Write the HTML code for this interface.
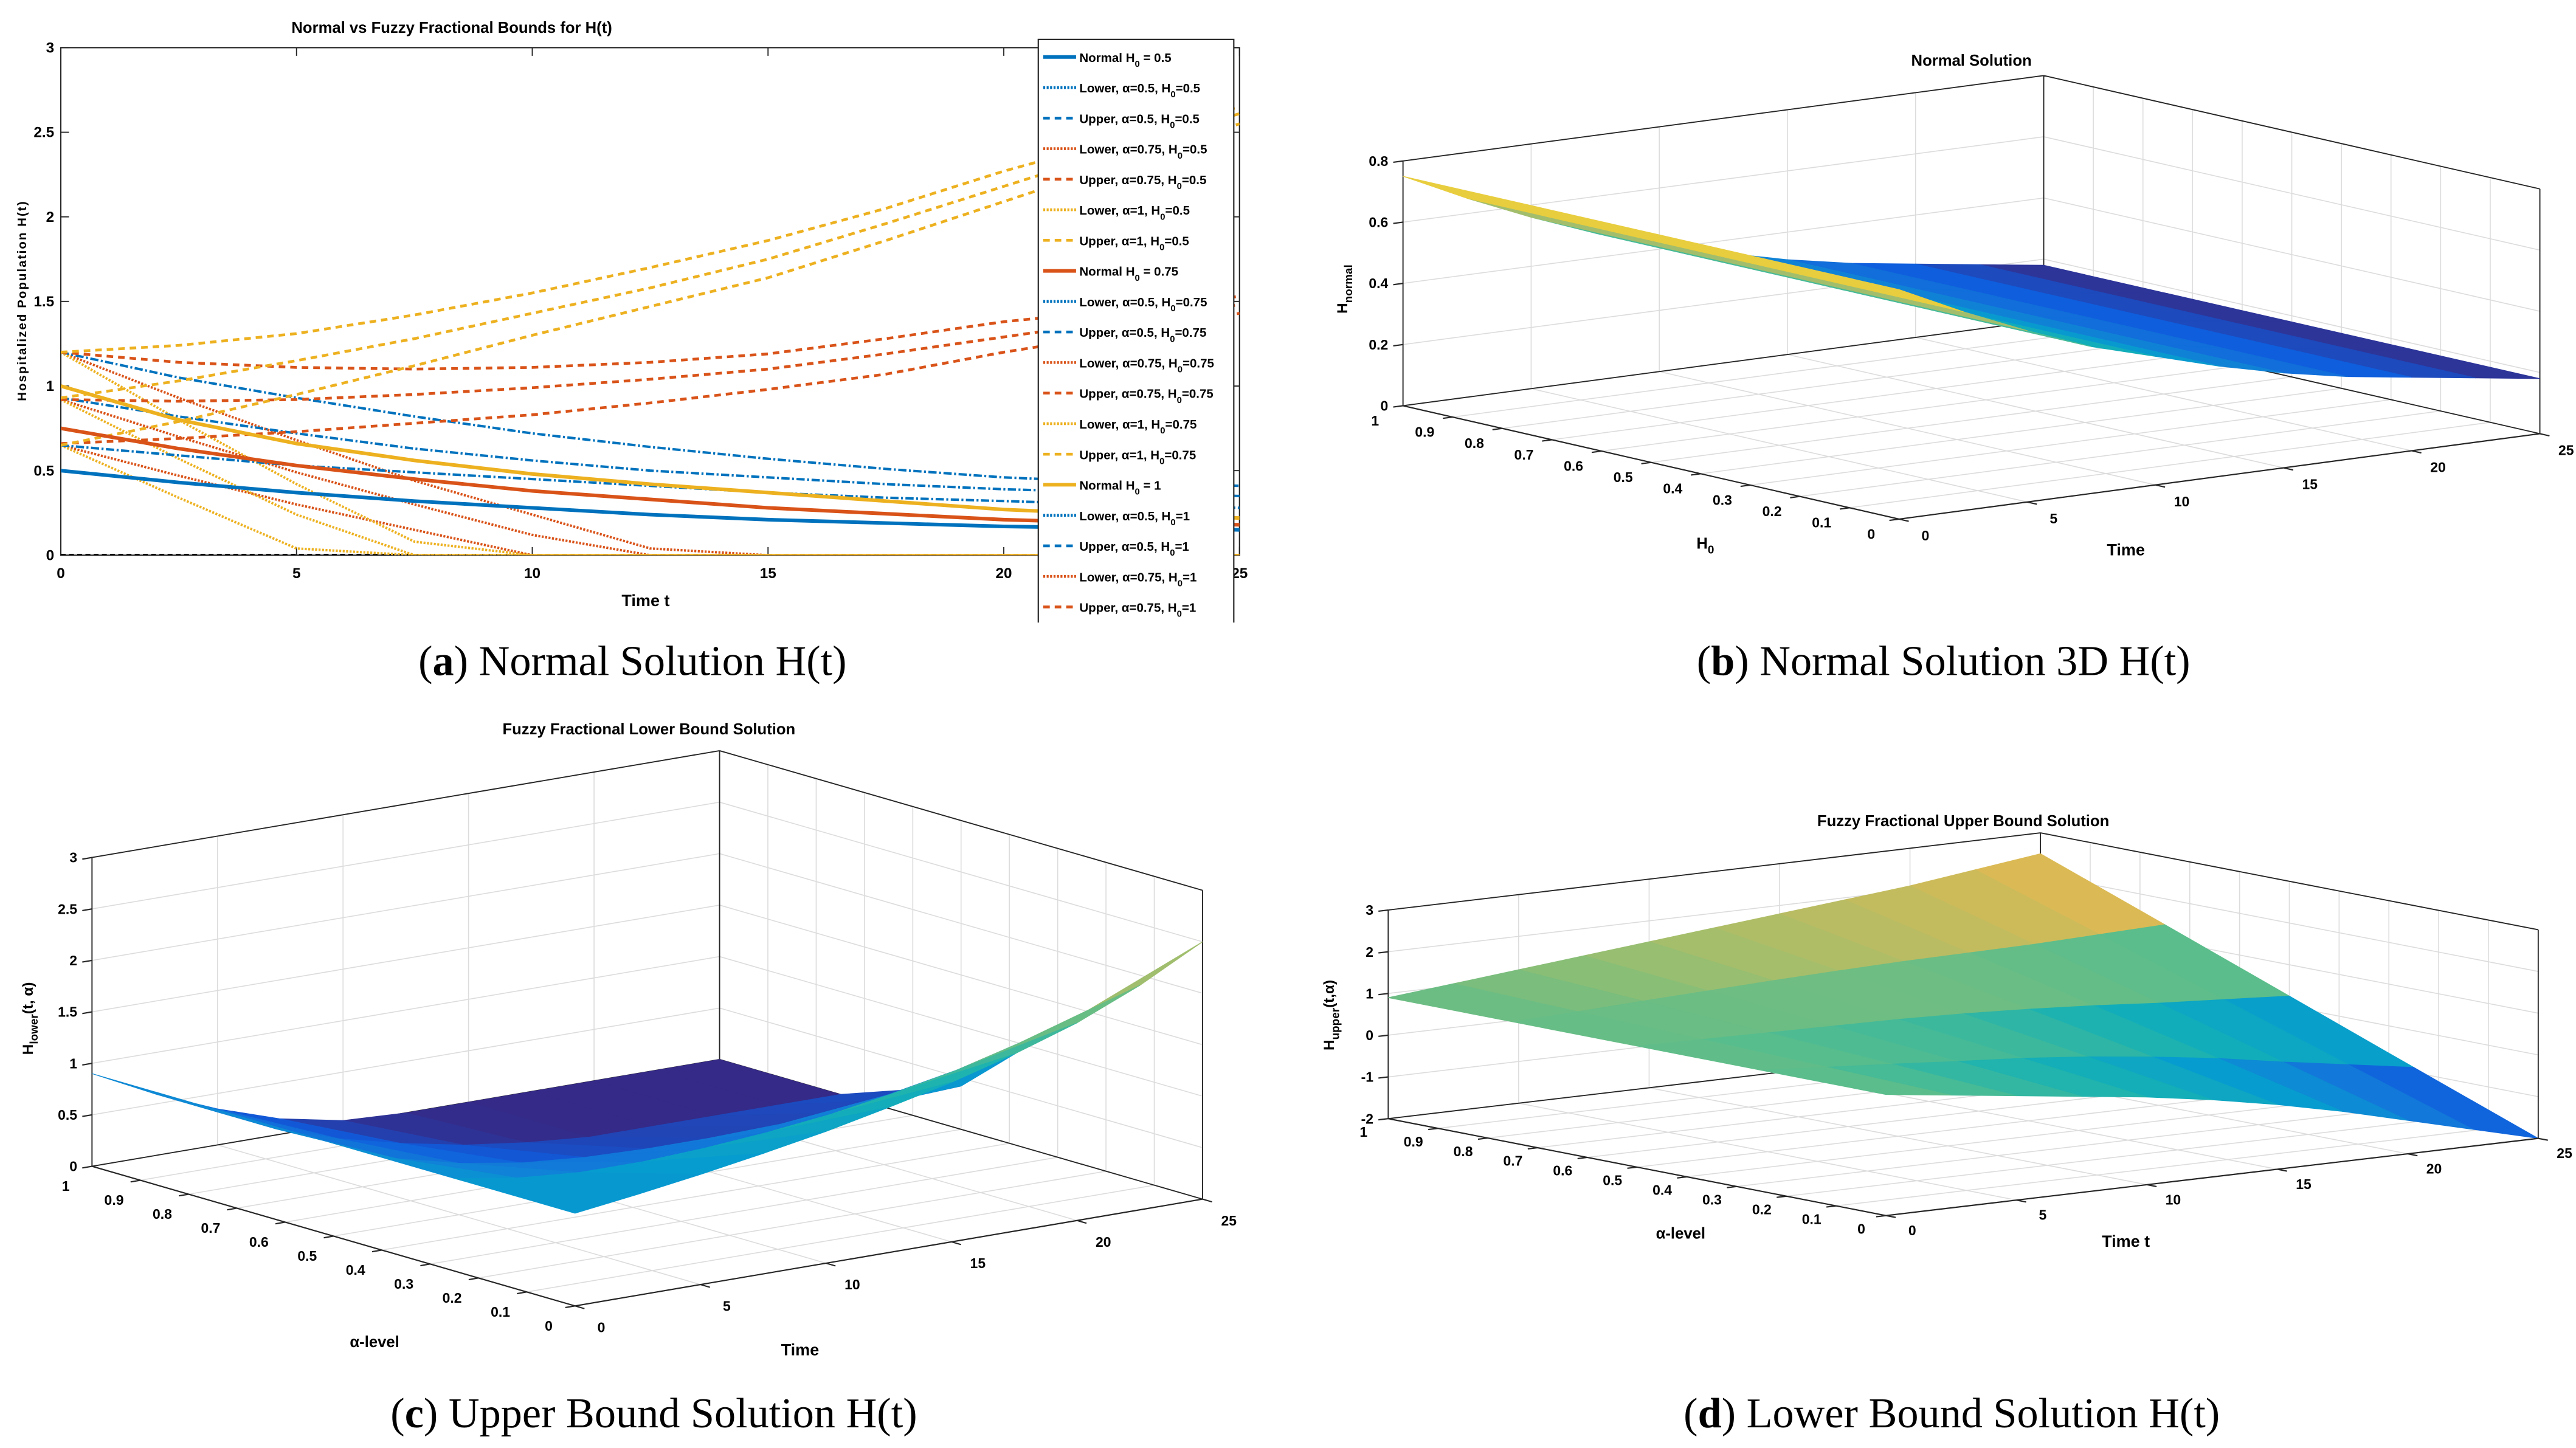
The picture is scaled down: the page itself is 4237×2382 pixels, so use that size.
<!DOCTYPE html>
<html><head><meta charset="utf-8"><style>
html,body{margin:0;padding:0;background:#fff;}
svg{display:block;}
text{font-family:"Liberation Sans",sans-serif;}
.cap{font-family:"Liberation Serif",serif;font-size:26px;fill:#000;}
</style></head><body>
<svg id="fig" xmlns="http://www.w3.org/2000/svg" width="4237" height="2382" viewBox="0 0 1568 881.5" preserveAspectRatio="none">
<rect x="0" y="0" width="1568" height="881.5" fill="#fff"/>
<defs>
<clipPath id="clipA"><rect x="37" y="29" width="717.5" height="309"/></clipPath>
<clipPath id="clipLeg"><rect x="600" y="0" width="200" height="379"/></clipPath>
</defs>
<text class="cap" x="385" y="411" text-anchor="middle">(<tspan font-weight="bold">a</tspan>) Normal Solution H(t)</text>
<text class="cap" x="1183" y="411" text-anchor="middle">(<tspan font-weight="bold">b</tspan>) Normal Solution 3D H(t)</text>
<text class="cap" x="398" y="869" text-anchor="middle">(<tspan font-weight="bold">c</tspan>) Upper Bound Solution H(t)</text>
<text class="cap" x="1188" y="869" text-anchor="middle">(<tspan font-weight="bold">d</tspan>) Lower Bound Solution H(t)</text>
</svg>
<script>
// ---------- Panel (a) data ----------
const tA = [0,2.5,5,7.5,10,12.5,15,17.5,20,22.5,25];
const normal05 = [0.5,0.43,0.37,0.32,0.28,0.24,0.21,0.19,0.17,0.16,0.15];
const normal075 = [0.75,0.63,0.53,0.45,0.38,0.33,0.28,0.245,0.21,0.19,0.18];
const normal1 = [1.0,0.8,0.66,0.56,0.48,0.42,0.37,0.32,0.27,0.24,0.22];
const blueDashDotTop = [1.2,1.05,0.93,0.82,0.72,0.64,0.57,0.51,0.46,0.43,0.41];
const blueDashDotMid = [0.93,0.82,0.72,0.63,0.56,0.5,0.46,0.42,0.39,0.37,0.35];
const blueDashDotBot = [0.65,0.59,0.53,0.49,0.45,0.41,0.37,0.34,0.32,0.3,0.28];
const yellowDashTop = [1.2,1.24,1.31,1.42,1.55,1.7,1.86,2.05,2.27,2.46,2.65];
const yellowDashMid = [0.93,1.03,1.15,1.28,1.43,1.58,1.75,1.96,2.18,2.4,2.61];
const yellowDashBot = [0.65,0.79,0.95,1.12,1.3,1.47,1.64,1.86,2.09,2.32,2.55];
const redDashTop = [1.2,1.14,1.11,1.1,1.11,1.14,1.19,1.28,1.38,1.45,1.53];
const redDashMid = [0.92,0.91,0.92,0.95,0.99,1.04,1.1,1.19,1.29,1.39,1.48];
const redDashBot = [0.66,0.69,0.73,0.78,0.83,0.9,0.98,1.07,1.2,1.31,1.43];
const redDotTop = [1.2,0.93,0.68,0.44,0.24,0.04,0,0,0,0,0];
const redDotMid = [0.92,0.7,0.49,0.3,0.12,0,0,0,0,0,0];
const redDotBot = [0.65,0.47,0.3,0.15,0,0,0,0,0,0,0];
const yellowDotTop = [1.2,0.8,0.42,0.08,0,0,0,0,0,0,0];
const yellowDotMid = [0.92,0.57,0.24,0,0,0,0,0,0,0,0];
const yellowDotBot = [0.65,0.34,0.04,0,0,0,0,0,0,0,0];
const zeroLine = [0,0,0,0,0,0,0,0,0,0,0];
const xTicksA = [0,5,10,15,20,25];
const yTicksA = [0,0.5,1,1.5,2,2.5,3];
const yTickLabelsA = ['0','0.5','1','1.5','2','2.5','3'];
const legendLabels = [
 ['Normal H','0',' = 0.5'],['Lower, α=0.5, H','0','=0.5'],['Upper, α=0.5, H','0','=0.5'],
 ['Lower, α=0.75, H','0','=0.5'],['Upper, α=0.75, H','0','=0.5'],['Lower, α=1, H','0','=0.5'],
 ['Upper, α=1, H','0','=0.5'],['Normal H','0',' = 0.75'],['Lower, α=0.5, H','0','=0.75'],
 ['Upper, α=0.5, H','0','=0.75'],['Lower, α=0.75, H','0','=0.75'],['Upper, α=0.75, H','0','=0.75'],
 ['Lower, α=1, H','0','=0.75'],['Upper, α=1, H','0','=0.75'],['Normal H','0',' = 1'],
 ['Lower, α=0.5, H','0','=1'],['Upper, α=0.5, H','0','=1'],['Lower, α=0.75, H','0','=1'],
 ['Upper, α=0.75, H','0','=1'],['Lower, α=1, H','0','=1']];

// ---------- Panel (b) data ----------
const bTimes = [0,2.5,5,7.5,10,12.5,15,17.5,20,22.5,25];
const bH0 = [0,0.25,0.5,0.75,1];
const bNormal = [0.75,0.65,0.56,0.48,0.42,0.36,0.31,0.27,0.24,0.21,0.18];

// ---------- Panel (c) data ----------
const cTimes = [0,2.5,5,7.5,10,12.5,15,17.5,20,22.5,25];
const cAlphas = [0,0.25,0.5,0.75,1];
const cLowA0 = [0.9,0.98,1.07,1.17,1.28,1.41,1.55,1.72,1.92,2.18,2.5];
const cLowA25 = [0.9,0.8,0.75,0.75,0.78,0.83,0.9,1.0,1.12,1.28,1.46];
const cLowA50 = [0.9,0.65,0.5,0.4,0.35,0.33,0.33,0.34,0.36,0.39,0.42];
const cLowA75 = [0.9,0.6,0.4,0.25,0.13,0.05,0,0,0,0,0];
const cLowA100 = [0.9,0.6,0.35,0.15,0.03,0,0,0,0,0,0];

// ---------- Panel (d) data ----------
const dTimes = [0,2.5,5,7.5,10,12.5,15,17.5,20,22.5,25];
const dAlphas = [0,0.25,0.5,0.75,1];
const dUpA0 = [0.9,0.7,0.5,0.3,0.1,-0.15,-0.45,-0.8,-1.2,-1.6,-2.0];
const dUpA25 = [0.9,0.79,0.68,0.56,0.45,0.3,0.11,-0.11,-0.38,-0.63,-0.88];
const dUpA50 = [0.9,0.875,0.85,0.825,0.8,0.75,0.675,0.575,0.45,0.35,0.25];
const dUpA75 = [0.9,0.96,1.03,1.09,1.15,1.2,1.24,1.26,1.28,1.33,1.38];
const dUpA100 = [0.9,1.05,1.2,1.35,1.5,1.65,1.8,1.95,2.1,2.3,2.5];

const NS='http://www.w3.org/2000/svg';
const svg=document.getElementById('fig');
function mk(tag, attrs, parent){const e=document.createElementNS(NS,tag);for(const k in attrs)e.setAttribute(k,attrs[k]);(parent||svg).appendChild(e);return e;}
const BLUE='#0072BD',RED='#D95319',YEL='#EDB120';

// ===== Panel (a) =====
const AX={x0:37,x1:754.5,y0:338,y1:29};
const xA=t=>AX.x0+(t/25)*(AX.x1-AX.x0);
const yA=v=>AX.y0-(v/3)*(AX.y0-AX.y1);
const gA=mk('g',{});


const frame=mk('rect',{x:AX.x0,y:AX.y1,width:AX.x1-AX.x0,height:AX.y0-AX.y1,fill:'#fff',stroke:'#262626','stroke-width':0.8},gA);


xTicksA.forEach(t=>{
 const x=xA(t);
 const tk=mk('path',{d:`M${x},${AX.y0}v-5M${x},${AX.y1}v5`,stroke:'#262626','stroke-width':0.7},gA);
 
 
 const lb=mk('text',{x:x,y:AX.y0+14,'text-anchor':'middle','font-size':9,'font-weight':'bold'},gA);
 
 
 lb.textContent=String(t);
});
yTicksA.forEach((v,i)=>{
 const y=yA(v);
 const tk=mk('path',{d:`M${AX.x0},${y}h5M${AX.x1},${y}h-5`,stroke:'#262626','stroke-width':0.7},gA);
 
 
 const lb=mk('text',{x:AX.x0-4,y:y+3,'text-anchor':'end','font-size':9,'font-weight':'bold'},gA);
 
 
 lb.textContent=yTickLabelsA[i];
});
const ttlA=mk('text',{x:275,y:20,'text-anchor':'middle','font-size':9.5,'font-weight':'bold'},gA);


ttlA.textContent='Normal vs Fuzzy Fractional Bounds for H(t)';
const xlA=mk('text',{x:393,y:369,'text-anchor':'middle','font-size':10,'font-weight':'bold'},gA);


xlA.textContent='Time t';
const ylA=mk('text',{x:0,y:0,'text-anchor':'middle','font-size':7.5,'font-weight':'bold','letter-spacing':0.8,transform:'translate(16,183) rotate(-90)'},gA);


ylA.textContent='Hospitalized Population H(t)';

const seriesA=[
 [zeroLine,'#000','3 2',1.6],
 [redDotTop,RED,'1.2 0.9',1.5],[redDotMid,RED,'1.2 0.9',1.5],[redDotBot,RED,'1.2 0.9',1.5],
 [yellowDotTop,YEL,'1.2 0.9',1.5],[yellowDotMid,YEL,'1.2 0.9',1.5],[yellowDotBot,YEL,'1.2 0.9',1.5],
 [blueDashDotTop,BLUE,'5 1.5 1.2 1.5',1.5],[blueDashDotMid,BLUE,'5 1.5 1.2 1.5',1.5],[blueDashDotBot,BLUE,'5 1.5 1.2 1.5',1.5],
 [redDashTop,RED,'4 3',1.7],[redDashMid,RED,'4 3',1.7],[redDashBot,RED,'4 3',1.7],
 [yellowDashTop,YEL,'4 3',1.7],[yellowDashMid,YEL,'4 3',1.7],[yellowDashBot,YEL,'4 3',1.7],
 [normal05,BLUE,'',2.2],[normal075,RED,'',2.2],[normal1,YEL,'',2.2]];
const gLines=mk('g',{'clip-path':'url(#clipA)'},gA);


seriesA.forEach(s=>{
 const d=s[0].map((v,i)=>(i?'L':'M')+xA(tA[i]).toFixed(2)+','+yA(v).toFixed(2)).join('');
 const p=mk('path',{d:d,fill:'none',stroke:s[1],'stroke-width':s[3],'stroke-dasharray':s[2]},gLines);
 
 
});
// legend
const legStyles=[[BLUE,''],[BLUE,'1.2 0.9'],[BLUE,'4 3'],[RED,'1.2 0.9'],[RED,'4 3'],[YEL,'1.2 0.9'],[YEL,'4 3'],
 [RED,''],[BLUE,'1.2 0.9'],[BLUE,'4 3'],[RED,'1.2 0.9'],[RED,'4 3'],[YEL,'1.2 0.9'],[YEL,'4 3'],
 [YEL,''],[BLUE,'1.2 0.9'],[BLUE,'4 3'],[RED,'1.2 0.9'],[RED,'4 3'],[YEL,'1.2 0.9']];
const gLeg=mk('g',{'clip-path':'url(#clipLeg)'},gA);


const legBox=mk('rect',{x:632,y:24,width:119,height:400,fill:'#fff',stroke:'#262626','stroke-width':0.8},gLeg);


legendLabels.forEach((lab,i)=>{
 const y=34.7+i*18.6;
 const ln=mk('line',{x1:635,x2:655,y1:y,y2:y,stroke:legStyles[i][0],'stroke-width':legStyles[i][1]?1.7:2.2,'stroke-dasharray':legStyles[i][1]},gLeg);
 
 
 const tx=mk('text',{x:657,y:y+3,'font-size':7.6,'font-weight':'bold'},gLeg);
 
 
 tx.appendChild(document.createTextNode(lab[0]));
 const sub=mk('tspan',{'font-size':5.5,dy:3},tx);
 sub.textContent=lab[1];
 const rest=mk('tspan',{dy:-3},tx);
 rest.textContent=lab[2];
});

// ===== 3D panels =====
const PAR=[[0,53,42,135],[0.125,15,92,221],[0.25,18,125,216],[0.375,7,156,207],[0.5,21,177,180],[0.625,89,189,140],[0.75,165,190,107],[0.875,225,185,82],[1,249,251,14]];
function parula(f){f=Math.max(0,Math.min(1,f));for(let i=1;i<PAR.length;i++){if(f<=PAR[i][0]){const a=PAR[i-1],b=PAR[i],u=(f-a[0])/(b[0]-a[0]);return `rgb(${Math.round(a[1]+u*(b[1]-a[1]))},${Math.round(a[2]+u*(b[2]-a[2]))},${Math.round(a[3]+u*(b[3]-a[3]))})`;}}return 'rgb(249,251,14)';}

function draw3D(c){
 const g=mk('g',{});
 
 
 const P=(t,a,z)=>[c.front[0]+t/c.tmax*(c.right[0]-c.front[0])+a*(c.left[0]-c.front[0]),
                    c.front[1]+t/c.tmax*(c.right[1]-c.front[1])+a*(c.left[1]-c.front[1])-(z-c.zmin)/(c.zmax-c.zmin)*c.H];
 const L=(p,q)=>`M${p[0].toFixed(2)},${p[1].toFixed(2)}L${q[0].toFixed(2)},${q[1].toFixed(2)}`;
 let gd='';
 c.zTicks.forEach(z=>{gd+=L(P(0,1,z),P(c.tmax,1,z))+L(P(c.tmax,1,z),P(c.tmax,0,z));});
 c.tTicks.forEach(t=>{gd+=L(P(t,1,c.zmin),P(t,1,c.zmax))+L(P(t,0,c.zmin),P(t,1,c.zmin));});
 c.aTicks.forEach(a=>{gd+=L(P(c.tmax,a,c.zmin),P(c.tmax,a,c.zmax))+L(P(0,a,c.zmin),P(c.tmax,a,c.zmin));});
 const grid=mk('path',{d:gd,stroke:'#dcdcdc','stroke-width':0.6,fill:'none'},g);
 
 
 const zb=c.zmin,zt=c.zmax,T=c.tmax;
 let bd=L(P(0,1,zt),P(T,1,zt))+L(P(T,1,zt),P(T,0,zt))+L(P(0,1,zb),P(0,1,zt))+L(P(T,1,zb),P(T,1,zt))+L(P(T,0,zb),P(T,0,zt))
   +L(P(0,1,zb),P(T,1,zb))+L(P(T,1,zb),P(T,0,zb));
 const box=mk('path',{d:bd,stroke:'#262626','stroke-width':0.7,fill:'none'},g);
 
 
 const quads=[];
 for(let i=0;i<c.times.length-1;i++)for(let j=0;j<c.alphas.length-1;j++){
  const t0=c.times[i],t1=c.times[i+1],a0=c.alphas[j],a1=c.alphas[j+1];
  const z00=c.Z[j][i],z01=c.Z[j][i+1],z11=c.Z[j+1][i+1],z10=c.Z[j+1][i];
  quads.push({depth:(t0+t1)/2/T+(a0+a1)/2,pts:[P(t0,a0,z00),P(t1,a0,z01),P(t1,a1,z11),P(t0,a1,z10)],z:(z00+z01+z11+z10)/4});
 }
 quads.sort((p,q)=>q.depth-p.depth);
 const gs=mk('g',{},g);
 
 
 quads.forEach(q=>{
  const col=parula((q.z-c.cmin)/(c.cmax-c.cmin));
  const poly=mk('polygon',{points:q.pts.map(p=>p[0].toFixed(2)+','+p[1].toFixed(2)).join(' '),fill:col,stroke:col,'stroke-width':0.4,'stroke-linejoin':'round'},gs);
  
  
 });
 let ad=L(P(0,1,zb),P(0,0,zb))+L(P(0,0,zb),P(T,0,zb));
 const ux=c.front[0]-c.right[0],uy=c.front[1]-c.right[1],ul=Math.hypot(ux,uy);
 const vx=c.front[0]-c.left[0],vy=c.front[1]-c.left[1],vl=Math.hypot(vx,vy);
 c.aTicks.forEach(a=>{const p=P(0,a,zb);ad+=L(p,[p[0]+ux/ul*6,p[1]+uy/ul*6]);});
 c.tTicks.forEach(t=>{const p=P(t,0,zb);ad+=L(p,[p[0]+vx/vl*6,p[1]+vy/vl*6]);});
 c.zTicks.forEach(z=>{const p=P(0,1,z);ad+=L(p,[p[0]+ux/ul*6,p[1]+uy/ul*6]);});
 const axes=mk('path',{d:ad,stroke:'#262626','stroke-width':0.8,fill:'none'},g);
 
 
 c.zTicks.forEach((z,i)=>{const p=P(0,1,z);
  const tx=mk('text',{x:p[0]-9,y:p[1]+3,'text-anchor':'end','font-size':8.5,'font-weight':'bold'},g);
  
  
  tx.textContent=c.zLabels[i];});
 c.aTicks.forEach(a=>{const p=P(0,a,zb);
  const tx=mk('text',{x:p[0]+c.aOff[0],y:p[1]+c.aOff[1]+3,'text-anchor':'middle','font-size':8.5,'font-weight':'bold'},g);
  
  
  tx.textContent=String(+a.toFixed(1));});
 c.tTicks.forEach(t=>{const p=P(t,0,zb);
  const tx=mk('text',{x:p[0]+c.tOff[0],y:p[1]+c.tOff[1]+3,'text-anchor':'middle','font-size':8.5,'font-weight':'bold'},g);
  
  
  tx.textContent=String(t);});
 const ti=mk('text',{x:c.title[1],y:c.title[2]+3,'text-anchor':'middle','font-size':9.5,'font-weight':'bold'},g);
 
 
 ti.textContent=c.title[0];
 const at=mk('text',{x:c.aTitle[1],y:c.aTitle[2]+3,'text-anchor':'middle','font-size':9.5,'font-weight':'bold'},g);
 
 
 at.textContent=c.aTitle[0];
 if(c.aTitle[3]){const s=mk('tspan',{'font-size':7,dy:3},at);s.textContent=c.aTitle[3];}
 const tt=mk('text',{x:c.tTitle[1],y:c.tTitle[2]+4,'text-anchor':'middle','font-size':10,'font-weight':'bold'},g);
 
 
 tt.textContent=c.tTitle[0];
 const zt2=mk('text',{x:0,y:0,'text-anchor':'middle','font-size':9,'font-weight':'bold',transform:`translate(${c.zTitle[1]},${c.zTitle[2]}) rotate(-90)`},g);
 
 
 zt2.textContent=c.zTitle[0];
 const zs=mk('tspan',{'font-size':7,dy:3},zt2);zs.textContent=c.zTitle[3];
 if(c.zTitle[4]){const zr=mk('tspan',{dy:-3},zt2);zr.textContent=c.zTitle[4];}
}
const tick01=[0,0.1,0.2,0.3,0.4,0.5,0.6,0.7,0.8,0.9,1];
const tTicks3=[0,5,10,15,20,25];

draw3D({name:'panel-b-normal-surface',front:[1156,316],left:[854,247],right:[1546,264],H:149,zmin:0,zmax:0.8,tmax:25,
 zTicks:[0,0.2,0.4,0.6,0.8],zLabels:['0','0.2','0.4','0.6','0.8'],aTicks:tick01,tTicks:tTicks3,
 times:bTimes,alphas:bH0,Z:bH0.map(()=>bNormal),cmin:0.18,cmax:0.75,
 aOff:[-17,9],tOff:[16,10],title:['Normal Solution',1200,37],aTitle:['H',1038,331,'0'],tTitle:['Time',1294,334],
 zTitle:['H',820,176,'normal','']});
draw3D({name:'panel-c-lower-bound-surface',front:[350,795],left:[56,710],right:[732,730],H:188,zmin:0,zmax:3,tmax:25,
 zTicks:[0,0.5,1,1.5,2,2.5,3],zLabels:['0','0.5','1','1.5','2','2.5','3'],aTicks:tick01,tTicks:tTicks3,
 times:cTimes,alphas:cAlphas,Z:[cLowA0,cLowA25,cLowA50,cLowA75,cLowA100],cmin:0,cmax:2.5,
 aOff:[-16,12],tOff:[16,13],title:['Fuzzy Fractional Lower Bound Solution',395,444],aTitle:['α-level',228,817],tTitle:['Time',487,821],
 zTitle:['H',20,620,'lower','(t, α)']});
draw3D({name:'panel-d-upper-bound-surface',front:[1148,740],left:[845,681],right:[1545,693],H:127,zmin:-2,zmax:3,tmax:25,
 zTicks:[-2,-1,0,1,2,3],zLabels:['-2','-1','0','1','2','3'],aTicks:tick01,tTicks:tTicks3,
 times:dTimes,alphas:dAlphas,Z:[dUpA0,dUpA25,dUpA50,dUpA75,dUpA100],cmin:-2,cmax:2.5,
 aOff:[-15,8],tOff:[16,9],title:['Fuzzy Fractional Upper Bound Solution',1195,500],aTitle:['α-level',1023,751],tTitle:['Time t',1294,755],
 zTitle:['H',812,618,'upper','(t,α)']});
</script>
</body></html>
